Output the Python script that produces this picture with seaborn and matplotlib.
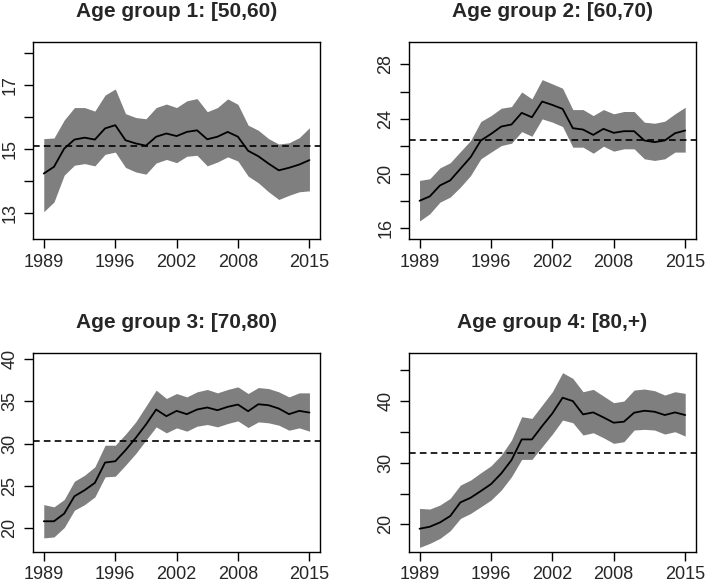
import numpy as np
import pandas as pd
import matplotlib
matplotlib.use("Agg")
import matplotlib.pyplot as plt
import seaborn as sns

years = list(range(1989, 2016))

titles = ["Age group 1: [50,60)", "Age group 2: [60,70)",
          "Age group 3: [70,80)", "Age group 4: [80,+)"]

mean_1 = [14.24, 14.45, 15.02, 15.30, 15.36, 15.30, 15.65, 15.75, 15.28, 15.18,
          15.11, 15.39, 15.49, 15.41, 15.54, 15.59, 15.31, 15.39, 15.54, 15.39,
          14.95, 14.78, 14.55, 14.34, 14.42, 14.52, 14.66]
upper_1 = [15.33, 15.35, 15.91, 16.30, 16.30, 16.19, 16.69, 16.88, 16.11, 15.99,
           15.95, 16.30, 16.41, 16.30, 16.51, 16.58, 16.17, 16.30, 16.57, 16.40,
           15.75, 15.59, 15.33, 15.16, 15.20, 15.36, 15.67]
lower_1 = [13.05, 13.35, 14.19, 14.50, 14.55, 14.48, 14.84, 14.91, 14.43, 14.29,
           14.22, 14.57, 14.68, 14.58, 14.78, 14.81, 14.48, 14.60, 14.76, 14.63,
           14.16, 13.95, 13.67, 13.43, 13.56, 13.67, 13.70]

mean_2 = [18.01, 18.33, 19.13, 19.50, 20.35, 21.20, 22.42, 22.90, 23.44, 23.59,
          24.44, 24.12, 25.27, 25.02, 24.73, 23.32, 23.22, 22.83, 23.27, 22.98,
          23.10, 23.10, 22.42, 22.30, 22.42, 22.95, 23.15]
upper_2 = [19.50, 19.62, 20.42, 20.79, 21.61, 22.42, 23.81, 24.24, 24.78, 24.90,
           25.97, 25.46, 26.87, 26.56, 26.24, 24.68, 24.68, 24.24, 24.68, 24.37,
           24.54, 24.54, 23.76, 23.68, 23.83, 24.37, 24.85]
lower_2 = [16.53, 17.06, 17.91, 18.28, 19.01, 19.86, 21.08, 21.57, 22.05, 22.22,
           23.07, 22.73, 24.00, 23.76, 23.44, 21.93, 21.93, 21.49, 22.00, 21.64,
           21.81, 21.81, 21.08, 20.96, 21.08, 21.57, 21.57]

mean_3 = [20.77, 20.77, 21.68, 23.74, 24.46, 25.33, 27.74, 27.90, 29.21, 30.67,
          32.26, 34.04, 33.25, 33.88, 33.49, 34.04, 34.28, 33.96, 34.36, 34.63,
          33.84, 34.67, 34.55, 34.16, 33.49, 33.88, 33.68]
upper_3 = [22.75, 22.48, 23.35, 25.52, 26.24, 27.23, 29.80, 29.80, 31.11, 32.57,
           34.44, 36.34, 35.35, 35.94, 35.54, 36.14, 36.42, 36.02, 36.42, 36.73,
           35.94, 36.65, 36.53, 36.14, 35.54, 36.02, 36.02]
lower_3 = [18.79, 18.91, 20.02, 22.08, 22.75, 23.66, 26.04, 26.12, 27.43, 28.81,
           30.40, 31.98, 31.27, 31.86, 31.47, 32.06, 32.26, 31.98, 32.38, 32.69,
           31.90, 32.57, 32.46, 32.18, 31.58, 31.86, 31.47]

mean_4 = [19.30, 19.62, 20.32, 21.35, 23.57, 24.32, 25.41, 26.54, 28.27, 30.43,
          33.78, 33.78, 35.95, 38.00, 40.54, 40.00, 37.84, 38.16, 37.35, 36.49,
          36.65, 38.11, 38.43, 38.27, 37.73, 38.16, 37.73]
upper_4 = [22.59, 22.49, 23.14, 24.22, 26.38, 27.19, 28.38, 29.51, 31.24, 33.68,
           37.46, 37.19, 39.35, 41.51, 44.59, 43.68, 41.51, 41.89, 40.81, 39.73,
           40.00, 41.78, 41.95, 41.68, 40.97, 41.51, 41.24]
lower_4 = [16.27, 16.92, 17.73, 18.97, 20.97, 21.78, 22.86, 23.95, 25.57, 27.73,
           30.54, 30.54, 32.59, 34.65, 36.92, 36.49, 34.49, 34.86, 34.05, 33.14,
           33.41, 35.30, 35.41, 35.30, 34.65, 35.03, 34.32]

overall = [15.09, 22.42, 30.28, 31.62]

x_ticks = [1989, 1996, 2002, 2008, 2015]
y_ticks = [[13, 14, 15, 16, 17, 18], [16, 18, 20, 22, 24, 26, 28],
           [20, 25, 30, 35, 40], [20, 25, 30, 35, 40, 45]]
y_labels = [["13", "", "15", "", "17", ""], ["16", "", "20", "", "24", "", "28"],
            ["20", "25", "30", "35", "40"], ["20", "", "30", "", "40", ""]]
y_lims = [(12.19, 18.35), (15.20, 29.63), (17.15, 40.79), (15.57, 47.84)]

means = [mean_1, mean_2, mean_3, mean_4]
uppers = [upper_1, upper_2, upper_3, upper_4]
lowers = [lower_1, lower_2, lower_3, lower_4]

sns.set_style("ticks")
plt.rcParams["font.family"] = ["Liberation Sans", "DejaVu Sans"]

fig = plt.figure(figsize=(7.05, 5.82), dpi=100)
positions = [(0.047, 0.589, 0.407, 0.339), (0.580, 0.589, 0.407, 0.339),
             (0.047, 0.052, 0.407, 0.342), (0.580, 0.052, 0.407, 0.342)]

for i in range(4):
    ax = fig.add_axes(positions[i])
    df = pd.DataFrame({"year": years, "mean": means[i],
                       "lo": lowers[i], "hi": uppers[i]})
    ax.fill_between(df["year"], df["lo"], df["hi"], color="#7f7f7f", lw=0)
    sns.lineplot(data=df, x="year", y="mean", ax=ax, color="black", lw=1.3)
    ax.axhline(overall[i], color="black", lw=1.2, ls=(0, (4, 2.5)))
    ax.set_xlim(1987.96, 2016.04)
    ax.set_ylim(*y_lims[i])
    ax.set_xticks(x_ticks)
    ax.set_yticks(y_ticks[i])
    ax.set_yticklabels(y_labels[i], rotation=90, va="center")
    ax.set_xlabel("")
    ax.set_ylabel("")
    ax.set_title(titles[i], fontsize=15, fontweight="bold", pad=18)
    ax.tick_params(labelsize=13, length=6.5, width=1, color="black", pad=4)
    for s in ax.spines.values():
        s.set_visible(True)
        s.set_linewidth(1)
        s.set_color("black")

fig.savefig("out.png", dpi=100)
